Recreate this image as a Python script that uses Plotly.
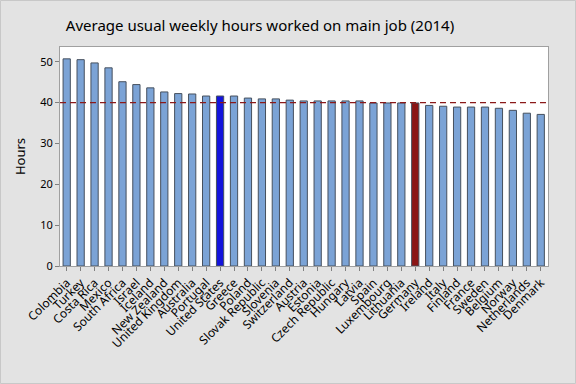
import plotly.graph_objects as go

countries = ["Colombia", "Turkey", "Costa Rica", "Mexico", "South Africa", "Israel", "Iceland",
             "New Zealand", "United Kingdom", "Australia", "Portugal", "United States", "Greece",
             "Poland", "Slovak Republic", "Slovenia", "Switzerland", "Austria", "Estonia",
             "Czech Republic", "Hungary", "Latvia", "Spain", "Luxembourg", "Lithuania", "Germany",
             "Ireland", "Italy", "Finland", "France", "Sweden", "Belgium", "Norway", "Netherlands",
             "Denmark"]
hours = [50.7, 50.5, 49.7, 48.5, 45.1, 44.4, 43.6, 42.6, 42.2, 42.1, 41.6, 41.6, 41.6,
         41.1, 40.9, 40.9, 40.6, 40.4, 40.4, 40.4, 40.4, 40.4, 39.9, 39.9, 39.9, 39.9,
         39.3, 39.1, 38.9, 38.9, 38.9, 38.6, 38.1, 37.4, 37.1]
reference_line = 40
y_ticks = [0, 10, 20, 30, 40, 50]

base_color = "#7BA3D6"
colors = []
for c in countries:
    if c == "United States":
        colors.append("#1414DC")
    elif c == "Germany":
        colors.append("#8B1515")
    else:
        colors.append(base_color)

font = "Noto Sans"

fig = go.Figure()
fig.add_trace(go.Bar(
    x=countries, y=hours,
    marker=dict(color=colors, line=dict(color="#46505E", width=1)),
    width=0.52,
    hoverinfo="x+y",
))

fig.add_shape(type="line", xref="paper", yref="y", x0=0, x1=1,
              y0=reference_line, y1=reference_line,
              line=dict(color="#8B1A1A", width=1.2, dash="6px,4px"))

# thin frame around the whole chart
fig.add_shape(type="rect", xref="paper", yref="paper",
              x0=-59.5/488, x1=1 + 27.5/488, y0=-117.5/219, y1=1 + 46.5/219,
              line=dict(color="#C8C8C8", width=1), layer="below")

fig.update_layout(
    width=576, height=384,
    paper_bgcolor="#E3E3E3",
    plot_bgcolor="white",
    margin=dict(l=60, r=28, t=47, b=118),
    showlegend=False,
    font=dict(family=font, color="black", size=11),
    title=dict(text="Average usual weekly hours worked on main job (2014)",
               x=260/576, xref="container", xanchor="center",
               y=1 - 26/384, yref="container", yanchor="middle",
               font=dict(family=font, size=15, color="black")),
    xaxis=dict(range=[-0.48, 34.52], tickangle=-45, ticks="outside", ticklen=4,
               tickmode="array", tickvals=countries, ticktext=countries,
               automargin=False,
               tickcolor="#808080", showline=True, linecolor="#A0A0A0", mirror=True,
               showgrid=False, tickfont=dict(size=12, family=font)),
    yaxis=dict(range=[0, 53.6], tickvals=y_ticks, ticks="outside", ticklen=4,
               automargin=False,
               tickcolor="#808080", showline=True, linecolor="#A0A0A0", mirror=True,
               showgrid=False, zeroline=False, tickfont=dict(size=11, family=font),
               title=dict(text="Hours", font=dict(size=13, family=font), standoff=11)),
)

fig.write_html("out.html", config={"displayModeBar": False},
               post_script="document.body.style.margin='0';document.body.style.background='#E3E3E3';")
